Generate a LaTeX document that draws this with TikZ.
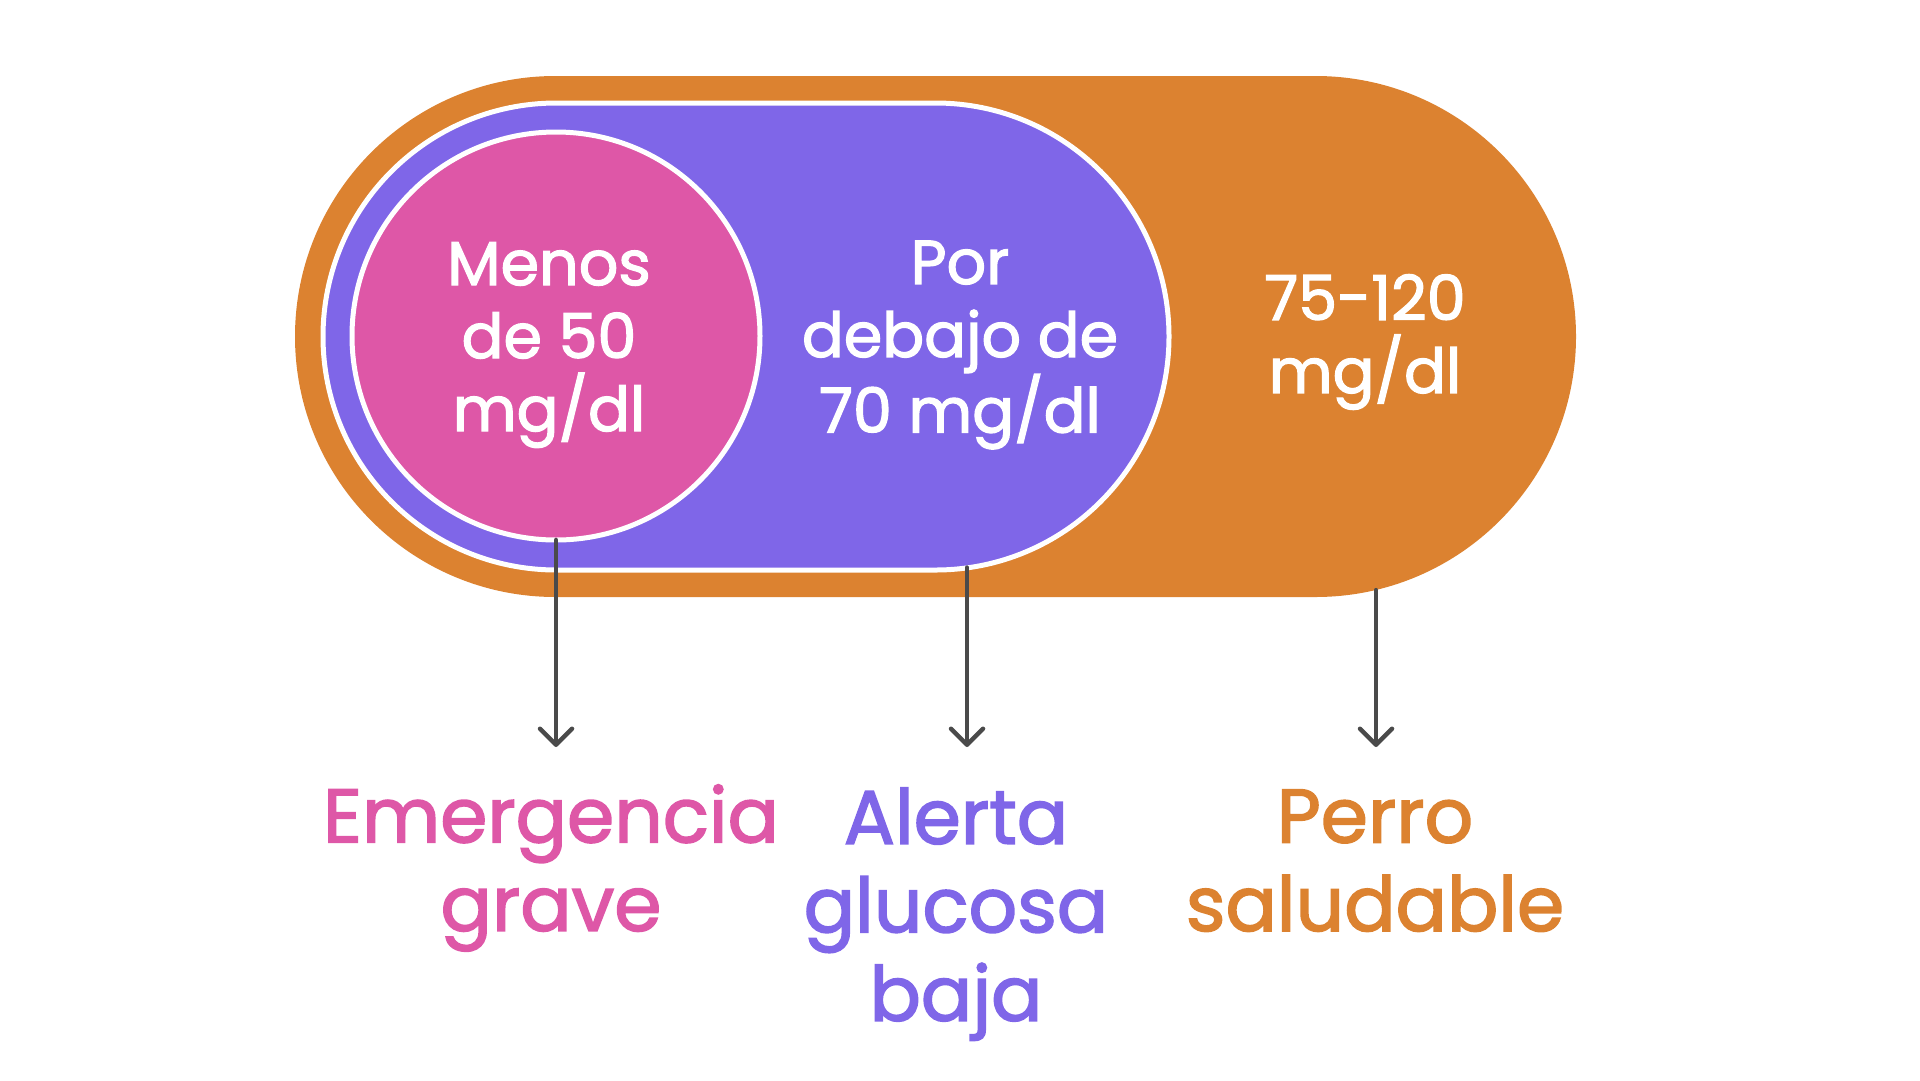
\documentclass[tikz,border=0pt]{standalone}
\usepackage{fontspec}
\setmainfont{Poppins}[FakeBold=2]
\usetikzlibrary{shapes.misc, arrows.meta}
\definecolor{dogorange}{HTML}{DC8230}
\definecolor{dogpurple}{HTML}{7F66E8}
\definecolor{dogpink}{HTML}{DE57A7}
\definecolor{arrowgray}{HTML}{4A4A4A}
\tikzstyle{rangebox} = [rounded rectangle, inner sep=0pt, outer sep=0pt]
\tikzstyle{rangetext} = [text=white, align=center, font=\fontsize{62}{73}\selectfont]
\tikzstyle{result} = [align=center, font=\fontsize{76}{88.5}\selectfont, anchor=north]
\tikzstyle{arrow} = [line width=4.5pt, line cap=round, draw=arrowgray, -{Straight Barb[length=16pt, width=32pt, line width=4.5pt, round]}]

\begin{document}
\begin{tikzpicture}[x=1pt, y=-1pt, node distance=0pt]
\useasboundingbox (0,0) rectangle (1920,1080);
\node (healthy) [rangebox, fill=dogorange, minimum width=1281, minimum height=521] at (935.5,336.5) {};
\node (low) [rangebox, fill=dogpurple, draw=white, line width=5pt, minimum width=846, minimum height=467, left of=healthy, xshift=-189.5] {};
\node (severe) [circle, inner sep=0pt, outer sep=0pt, fill=dogpink, draw=white, line width=5pt, minimum size=408] at (556,336) {};
\node (severetext) [rangetext] at (549,345) {Menos\\de 50\\mg/dl};
\node (lowtext) [rangetext] at (960,345) {Por\\debajo de\\70 mg/dl};
\node (healthytext) [rangetext] at (1365,342) {75-120\\mg/dl};
\node (severelabel) [result, text=dogpink] at (551,781) {Emergencia\\grave};
\node (lowlabel) [result, text=dogpurple] at (956,784) {Alerta\\glucosa\\baja};
\node (healthylabel) [result, text=dogorange] at (1375,786) {Perro\\saludable};
\coordinate (severetip) at (556,747);
\coordinate (lowtip) at (967,747);
\coordinate (healthytip) at (1376,747);
\draw [arrow] (severetip |- severe.south) -- (severetip);
\draw [arrow] (lowtip |- low.-46.4) -- (lowtip);
\draw [arrow] (healthytip |- healthy.-30.5) -- (healthytip);
\end{tikzpicture}
\end{document}
